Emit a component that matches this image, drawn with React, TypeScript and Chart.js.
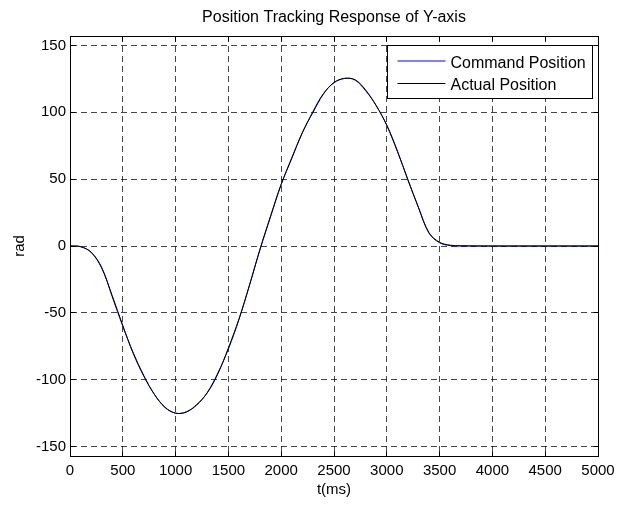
import React, { useEffect, useRef } from "react";
import { Chart, registerables } from "chart.js";

Chart.register(...registerables);

const FONT = '"Liberation Sans", Arial, Helvetica, sans-serif';

const chartTitle = "Position Tracking Response of Y-axis";
const xAxisLabel = "t(ms)";
const yAxisLabel = "rad";
const seriesNames = ["Command Position", "Actual Position"];
const seriesColors = ["#0000ff", "#000000"];

const xMin = 0;
const xMax = 5000;
const xStep = 500;
const yMin = -157;
const yMax = 157;
const yStep = 50;

const timeMs = [
  0, 100, 200, 300, 400, 500, 600, 700, 800, 900, 1000, 1100, 1200, 1300, 1400,
  1500, 1600, 1700, 1800, 1900, 2000, 2100, 2200, 2300, 2400, 2500, 2600, 2700,
  2800, 2900, 3000, 3100, 3200, 3300, 3400, 3500, 3600, 3700, 4000, 4500, 5000,
];

const commandPos = [
  0, -0.5, -4.5, -16, -38, -60, -80, -97, -111, -120.5, -125, -124, -119,
  -109.5, -95, -77, -55, -29, -2.5, 22, 46, 66, 84.5, 100.5, 114, 122,
  125.3, 124, 116, 105, 90, 70.7, 49.7, 28.6, 9.5, 2.4, 0.3, 0, 0, 0, 0,
];

const actualPos = [
  0, -0.5, -4.8, -16.5, -37.2, -59.5, -80.6, -97.5, -111, -120.8, -125, -124.2,
  -118.5, -109.8, -95.6, -76.2, -54.6, -29.4, -2.2, 22.6, 46.2, 65.4, 84.8, 99.8,
  113.6, 122.3, 125.3, 124.3, 116.6, 104.8, 90.4, 71.2, 49.3, 28.9, 9.9, 2.8,
  0.6, 0.2, 0, 0, 0,
];

const toPoints = (xs: number[], ys: number[]) => xs.map((x, i) => ({ x, y: ys[i] }));

const matlabFrame = {
  id: "matlabFrame",
  afterDraw(chart: any) {
    const { ctx, chartArea } = chart;
    const { left, top, right, bottom } = chartArea;
    const al = (v: number) => Math.round(v - 0.5) + 0.5;
    const L = al(left), T = al(top), R = al(right), B = al(bottom);
    ctx.save();
    ctx.strokeStyle = "#000";
    ctx.lineWidth = 1;
    ctx.setLineDash([]);
    const tl = 5;
    ctx.beginPath();
    chart.scales.x.ticks.forEach((t: any) => {
      const px = al(chart.scales.x.getPixelForValue(t.value));
      ctx.moveTo(px, B);
      ctx.lineTo(px, B - tl);
      ctx.moveTo(px, T);
      ctx.lineTo(px, T + tl);
    });
    chart.scales.y.ticks.forEach((t: any) => {
      const py = al(chart.scales.y.getPixelForValue(t.value));
      ctx.moveTo(L, py);
      ctx.lineTo(L + tl, py);
      ctx.moveTo(R, py);
      ctx.lineTo(R - tl, py);
    });
    ctx.stroke();
    ctx.strokeRect(L, T, R - L, B - T);

    // legend
    const lw = 205;
    const lh = 53;
    const lx = Math.round(right - 6 - lw) + 0.5;
    const ly = Math.round(top + 9) + 0.5;
    ctx.fillStyle = "#fff";
    ctx.fillRect(lx, ly, lw, lh);
    ctx.strokeStyle = "#000";
    ctx.strokeRect(lx, ly, lw, lh);
    const rows = [15, 37];
    ctx.font = `16px ${FONT}`;
    ctx.textAlign = "left";
    ctx.textBaseline = "alphabetic";
    seriesNames.forEach((name, i) => {
      const cy = Math.round(ly + rows[i]) + (i === 0 ? 0 : 0.5);
      ctx.strokeStyle = seriesColors[i];
      ctx.beginPath();
      ctx.moveTo(lx + 10, cy);
      ctx.lineTo(lx + 58, cy);
      ctx.stroke();
      ctx.fillStyle = "#000";
      ctx.fillText(name, lx + 63, Math.round(ly + rows[i]) + 6.5);
    });

    // title
    ctx.font = `16px ${FONT}`;
    ctx.textAlign = "center";
    ctx.fillStyle = "#000";
    ctx.fillText(chartTitle, (left + right) / 2, 22);
    ctx.restore();
  },
};

export default function App() {
  const ref = useRef<HTMLCanvasElement | null>(null);

  useEffect(() => {
    if (!ref.current) return;
    const gridColor = "rgba(0,0,0,0.72)";
    const chart = new Chart(ref.current, {
      type: "line",
      data: {
        datasets: [
          {
            label: seriesNames[0],
            data: toPoints(timeMs, commandPos),
            borderColor: seriesColors[0],
            borderWidth: 1,
            pointRadius: 0,
            fill: false,
            tension: 0.35,
            order: 1,
          },
          {
            label: seriesNames[1],
            data: toPoints(timeMs, actualPos),
            borderColor: seriesColors[1],
            borderWidth: 1,
            pointRadius: 0,
            fill: false,
            tension: 0.35,
            order: 0,
          },
        ],
      },
      options: {
        animation: false,
        responsive: false,
        maintainAspectRatio: false,
        layout: { padding: { top: 36, right: 30, left: 0, bottom: 0 } },
        plugins: {
          legend: { display: false },
          title: { display: false },
          tooltip: { enabled: false },
        },
        scales: {
          x: {
            type: "linear",
            min: xMin,
            max: xMax,
            ticks: {
              stepSize: xStep,
              color: "#000",
              font: { family: FONT, size: 15 },
              padding: 6,
              maxRotation: 0,
              autoSkip: false,
              includeBounds: false,
              callback: (v: any) => String(v),
            },
            grid: { color: gridColor, lineWidth: 1, drawTicks: false },
            border: { color: "#000", width: 1, dash: [6, 4] },
            title: {
              display: true,
              text: xAxisLabel,
              color: "#000",
              font: { family: FONT, size: 15 },
              padding: { top: 0, bottom: 6 },
            },
            afterFit: (s: any) => {
              s.height = 49;
            },
          },
          y: {
            type: "linear",
            min: yMin,
            max: yMax,
            ticks: {
              stepSize: yStep,
              color: "#000",
              font: { family: FONT, size: 15 },
              padding: 4,
              includeBounds: false,
              callback: (v: any) => String(v),
            },
            grid: { color: gridColor, lineWidth: 1, drawTicks: false },
            border: { color: "#000", width: 1, dash: [6, 4] },
            title: {
              display: true,
              text: yAxisLabel,
              color: "#000",
              font: { family: FONT, size: 15 },
              padding: { top: 11, bottom: 0 },
            },
            afterFit: (s: any) => {
              s.width = 70;
            },
          },
        },
      },
      plugins: [matlabFrame],
    } as any);
    return () => chart.destroy();
  }, []);

  return (
    <div style={{ position: "absolute", left: 0, top: 0, width: 628, height: 505, background: "#fff" }}>
      <canvas ref={ref} width={628} height={505} style={{ display: "block" }} />
    </div>
  );
}
